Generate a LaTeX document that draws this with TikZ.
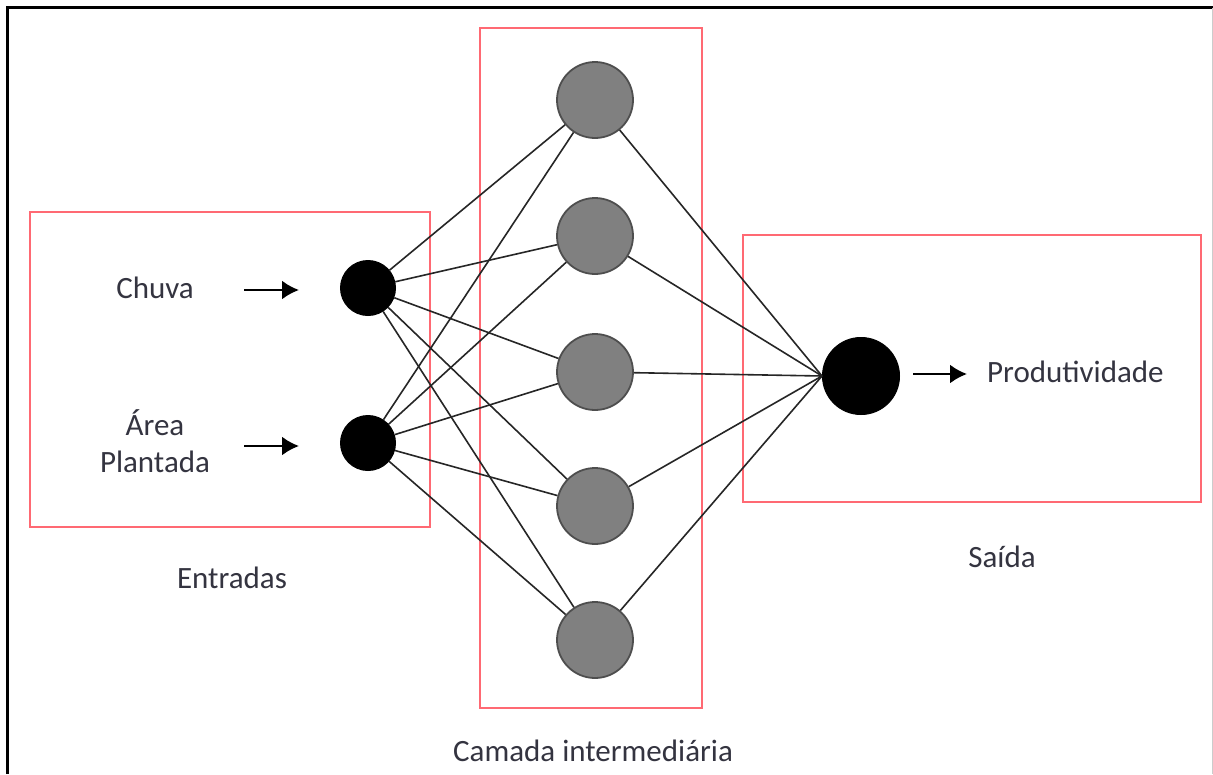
\documentclass[tikz,border=0pt]{standalone}
\usepackage{fontspec}
\setmainfont{Carlito}
\usetikzlibrary{arrows.meta}
\definecolor{boxred}{RGB}{255,105,115}
\definecolor{txt}{RGB}{52,52,64}
\definecolor{hidfill}{RGB}{128,128,128}
\definecolor{hidline}{RGB}{78,78,78}

\begin{document}
\begin{tikzpicture}[x=1pt,y=-1pt,
  layerbox/.style={draw=boxred,line width=2pt},
  inneuron/.style={circle,fill=black,draw=black,line width=1pt,minimum size=55pt,inner sep=0pt},
  hidneuron/.style={circle,fill=hidfill,draw=hidline,line width=1.8pt,minimum size=76pt,inner sep=0pt},
  outneuron/.style={circle,fill=black,draw=black,line width=1pt,minimum size=77pt,inner sep=0pt},
  link/.style={draw=black!85,line width=1.6pt},
  lbl/.style={text=txt,font=\fontsize{31}{36}\selectfont,inner sep=0pt},
  flow/.style={-{Latex[length=17pt,width=19pt]},line width=2.4pt}
]
\useasboundingbox (0,0) rectangle (1213,774);
\fill[white] (0,0) rectangle (1213,774);

% page frame
\draw[line width=3pt] (7,774) -- (7,7) -- (1213,7);
\draw[black!20,line width=1pt] (1212,8) -- (1212,774);

% layer boxes
\draw[layerbox] (30,212) rectangle (430,527);
\draw[layerbox] (480,28) rectangle (702,708);
\draw[layerbox] (743,235) rectangle (1201,502);

% neurons
\node[inneuron] (i1) at (368,288) {};
\node[inneuron] (i2) at (368,443) {};
\foreach \k/\y in {1/100,2/236,3/372,4/506,5/640}
  \node[hidneuron] (h\k) at (595,\y) {};
\node[outneuron] (out) at (861,376) {};

% connections
\foreach \i in {1,2}
  \foreach \k in {1,...,5}
    \draw[link] (i\i) -- (h\k);
\foreach \k in {1,...,5}
  \draw[link] (h\k) -- (out.west);

% labels
\node[lbl,anchor=base] (chuva) at (155,298) {Chuva};
\node[lbl,anchor=base] (area) at (155,435) {Área};
\node[lbl,anchor=base] (plantada) at (155,472) {Plantada};
\node[lbl,anchor=base west] (prod) at (987,382) {Produtividade};
\node[lbl,anchor=base] (entradas) at (232,588) {Entradas};
\node[lbl,anchor=base] (saida) at (1002,567) {Saída};
\node[lbl,anchor=base] (camada) at (593,761) {Camada intermediária};

% input and output arrows
\coordinate (a1s) at (244,290);
\coordinate (a1e) at (299,290);
\coordinate (a2s) at (244,446);
\coordinate (a2e) at (299,446);
\coordinate (a3s) at (913,374);
\coordinate (a3e) at (967,374);
\draw[flow] (a1s) -- (a1e);
\draw[flow] (a2s) -- (a2e);
\draw[flow] (a3s) -- (a3e);
\end{tikzpicture}
\end{document}
